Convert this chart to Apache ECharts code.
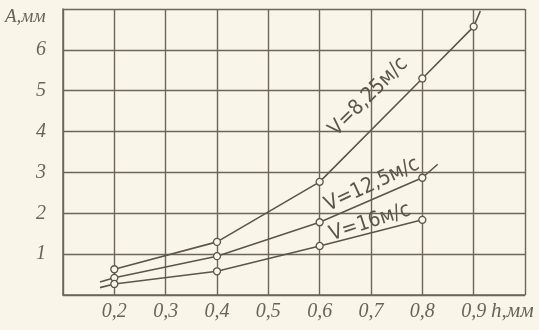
<!DOCTYPE html>
<html><head><meta charset="utf-8">
<script src="https://cdn.jsdelivr.net/npm/echarts@6/dist/echarts.min.js"></script>
<style>html,body{margin:0;padding:0;background:#f9f6e9;}#c{width:539px;height:330px;}</style>
</head><body><div id="c"></div><script>
// Curve V = 8,25 м/с
const curve825H = [0.2, 0.4, 0.6, 0.8, 0.9, 0.913];
const curve825A = [0.63, 1.30, 2.77, 5.30, 6.57, 6.95];
const curve825Marked = [1, 1, 1, 1, 1, 0];
// Curve V = 12,5 м/с
const curve125H = [0.172, 0.2, 0.4, 0.6, 0.8, 0.83];
const curve125A = [0.32, 0.42, 0.95, 1.78, 2.87, 3.2];
const curve125Marked = [0, 1, 1, 1, 1, 0];
// Curve V = 16 м/с
const curve16H = [0.172, 0.2, 0.4, 0.6, 0.8];
const curve16A = [0.18, 0.27, 0.58, 1.2, 1.84];
const curve16Marked = [0, 1, 1, 1, 1];

const curveLabels = ['V=8,25м/с', 'V=12,5м/с', 'V=16м/с'];
const labelAnchorH = [0.695, 0.702, 0.698];
const labelAnchorA = [4.85, 2.70, 1.78];
const labelAngleDeg = [45, 25, 18];

const xTitle = 'h,мм';
const yTitle = 'A,мм';

const ink = '#5c554a';
const gridInk = '#6e665a';
const textInk = '#6a6457';

function mk(hs, as, marked) {
  return hs.map((h, i) => marked[i]
    ? { value: [h, as[i]] }
    : { value: [h, as[i]], symbol: 'none' });
}
function series(hs, as, marked) {
  return {
    type: 'line', data: mk(hs, as, marked), smooth: false,
    symbol: 'circle', symbolSize: 7, showAllSymbol: true,
    lineStyle: { color: ink, width: 1.6 },
    itemStyle: { color: '#f9f6e9', borderColor: ink, borderWidth: 1.3 },
    silent: true
  };
}

const chart = echarts.init(document.getElementById('c'), null, { renderer: 'canvas' });
const tickFont = { fontFamily: 'Liberation Sans Narrow', fontStyle: 'italic', fontSize: 20, color: textInk };
chart.setOption({
  animation: false,
  backgroundColor: '#f9f6e9',
  grid: { left: 63, right: 14, top: 9, bottom: 35 },
  xAxis: {
    type: 'value', min: 0.1, max: 1.0, interval: 0.1,
    axisLine: { show: true, lineStyle: { color: gridInk, width: 1.5 } },
    axisTick: { show: false },
    splitLine: { show: true, lineStyle: { color: gridInk, width: 1.4 } },
    axisLabel: Object.assign({ margin: 7, formatter: v => (v < 0.15 || v > 0.95) ? '' : (Math.round(v * 10) / 10).toFixed(1).replace('.', ',') }, tickFont)
  },
  yAxis: {
    type: 'value', min: 0, max: 7, interval: 1,
    axisLine: { show: true, lineStyle: { color: gridInk, width: 1.5 } },
    axisTick: { show: false },
    splitLine: { show: true, lineStyle: { color: gridInk, width: 1.4 } },
    axisLabel: Object.assign({ margin: 17, formatter: v => (v === 0 || v === 7) ? '' : String(v) }, tickFont)
  },
  series: [
    series(curve825H, curve825A, curve825Marked),
    series(curve125H, curve125A, curve125Marked),
    series(curve16H, curve16A, curve16Marked)
  ]
});

const g = [];
curveLabels.forEach((t, i) => {
  const p = chart.convertToPixel({ gridIndex: 0 }, [labelAnchorH[i], labelAnchorA[i]]);
  g.push({
    type: 'text', x: p[0], y: p[1], rotation: labelAngleDeg[i] * Math.PI / 180,
    style: { text: t, fill: ink, font: '21px "DejaVu Sans Condensed"', textAlign: 'center', textVerticalAlign: 'middle' },
    z: 10
  });
});
const origin = chart.convertToPixel({ gridIndex: 0 }, [0.1, 0]);
const xEnd = chart.convertToPixel({ gridIndex: 0 }, [1.0, 7]);
g.push({ type: 'text', x: 5, y: xEnd[1] + 8, style: { text: yTitle, fill: textInk, font: 'italic 19px "Liberation Sans Narrow"', textAlign: 'left', textVerticalAlign: 'middle' } });
g.push({ type: 'text', x: 491, y: origin[1] + 16, style: { text: xTitle, fill: textInk, font: 'italic 21px "Liberation Sans Narrow"', textAlign: 'left', textVerticalAlign: 'middle' } });
chart.setOption({ graphic: g });
</script></body></html>
